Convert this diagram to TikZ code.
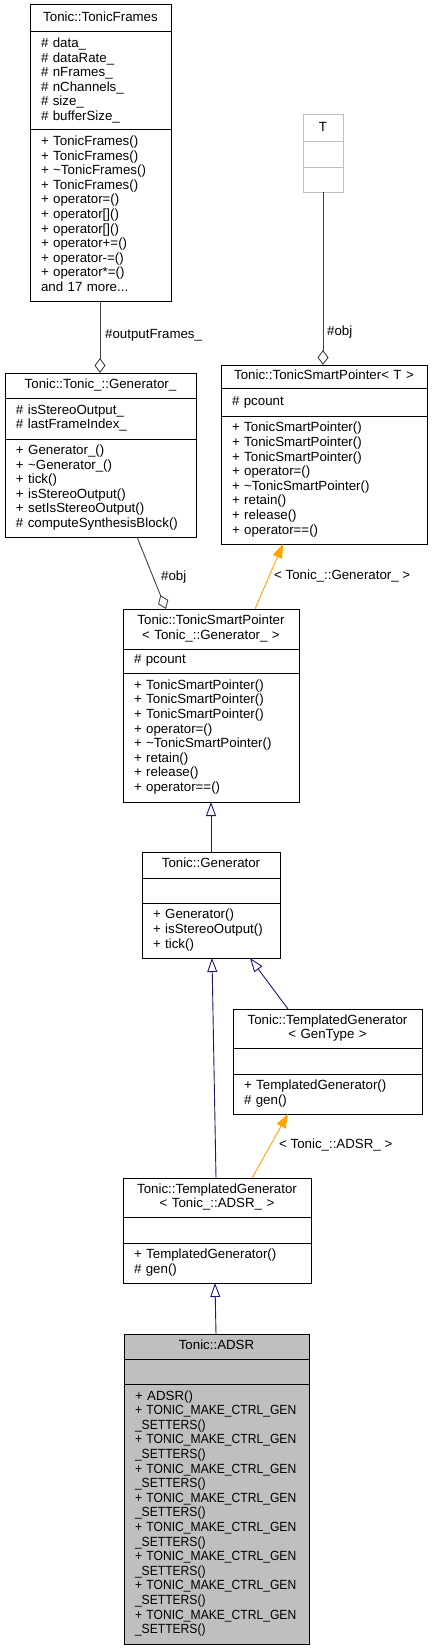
\documentclass[tikz,border=0pt]{standalone}
\usepackage{fontspec}
\setmainfont{Liberation Sans}
\newfontfamily\capsf[FakeStretch=0.91]{Liberation Sans}
\usetikzlibrary{arrows.meta}
\definecolor{edgegray}{HTML}{404040}
\definecolor{navyb}{HTML}{191970}
\definecolor{orng}{HTML}{FFA500}
\definecolor{lgray}{HTML}{BFBFBF}
\newcommand\Li[1]{\mbox{\strut#1}}
\newcommand\Lc[1]{\mbox{\strut\capsf#1}}
\begin{document}
\begin{tikzpicture}[x=1pt,y=-1pt,
 cell/.style={draw=black, line width=1pt, anchor=north west, inner xsep=11pt, inner ysep=0pt, outer sep=0pt, align=left, font=\fontsize{13.3}{14.6}\selectfont},
 ttl/.style={cell, align=center},
 lbl/.style={anchor=base west, inner sep=0pt, font=\fontsize{13.3}{14.6}\selectfont},
 agg/.style={draw=edgegray, line width=0.9pt, -{Diamond[open, length=15pt, width=11pt]}},
 inh/.style={draw=navyb, line width=0.9pt, -{Triangle[open, length=14pt, width=10pt]}},
 tpl/.style={draw=orng, line width=0.9pt, -{Triangle[length=14pt, width=10pt, fill=orng]}},
]
\useasboundingbox (0,0) rectangle (431,1651);

% Tonic::TonicFrames
\node[ttl, text width=119pt, minimum height=27pt] (tfT) at (30,5) {\Li{Tonic::TonicFrames}};
\node[cell, text width=119pt, minimum height=98pt] (tfA) at (30,32) {\Li{\# data\_}\\\Li{\# dataRate\_}\\\Li{\# nFrames\_}\\\Li{\# nChannels\_}\\\Li{\# size\_}\\\Li{\# bufferSize\_}};
\node[cell, text width=119pt, minimum height=171pt] (tfM) at (30,130) {\Li{+ TonicFrames()}\\\Li{+ TonicFrames()}\\\Li{+ \textasciitilde TonicFrames()}\\\Li{+ TonicFrames()}\\\Li{+ operator=()}\\\Li{+ operator[]()}\\\Li{+ operator[]()}\\\Li{+ operator+=()}\\\Li{+ operator-=()}\\\Li{+ operator*=()}\\\Li{and 17 more...}};

% T
\node[ttl, draw=lgray, text width=18pt, minimum height=27pt] (tT) at (303,115) {\Li{T}};
\node[cell, draw=lgray, text width=18pt, minimum height=25pt] (tA) at (303,142) {};
\node[cell, draw=lgray, text width=18pt, minimum height=25pt] (tM) at (303,167) {};

% Tonic::Tonic_::Generator_
\node[ttl, text width=169pt, minimum height=25pt] (gT) at (5,373) {\Li{Tonic::Tonic\_::Generator\_}};
\node[cell, text width=169pt, minimum height=41pt] (gA) at (5,398) {\Li{\# isStereoOutput\_}\\\Li{\# lastFrameIndex\_}};
\node[cell, text width=169pt, minimum height=98pt] (gM) at (5,439) {\Li{+ Generator\_()}\\\Li{+ \textasciitilde Generator\_()}\\\Li{+ tick()}\\\Li{+ isStereoOutput()}\\\Li{+ setIsStereoOutput()}\\\Li{\# computeSynthesisBlock()}};

% Tonic::TonicSmartPointer< T >
\node[ttl, text width=184pt, minimum height=23.5pt] (spT) at (221,365) {\Li{Tonic::TonicSmartPointer< T >}};
\node[cell, text width=184pt, minimum height=27.5pt] (spA) at (221,388.5) {\Li{\# pcount}};
\node[cell, text width=184pt, minimum height=128pt] (spM) at (221,416) {\Li{+ TonicSmartPointer()}\\\Li{+ TonicSmartPointer()}\\\Li{+ TonicSmartPointer()}\\\Li{+ operator=()}\\\Li{+ \textasciitilde TonicSmartPointer()}\\\Li{+ retain()}\\\Li{+ release()}\\\Li{+ operator==()}};

% Tonic::TonicSmartPointer< Tonic_::Generator_ >
\node[ttl, text width=154pt, minimum height=40pt] (sgT) at (123,609) {\Li{Tonic::TonicSmartPointer}\\\Li{< Tonic\_::Generator\_ >}};
\node[cell, text width=154pt, minimum height=24pt] (sgA) at (123,649) {\Li{\# pcount}};
\node[cell, text width=154pt, minimum height=129pt] (sgM) at (123,673) {\Li{+ TonicSmartPointer()}\\\Li{+ TonicSmartPointer()}\\\Li{+ TonicSmartPointer()}\\\Li{+ operator=()}\\\Li{+ \textasciitilde TonicSmartPointer()}\\\Li{+ retain()}\\\Li{+ release()}\\\Li{+ operator==()}};

% Tonic::Generator
\node[ttl, text width=116pt, minimum height=26pt] (genT) at (142,852) {\Li{Tonic::Generator}};
\node[cell, text width=116pt, minimum height=25pt] (genA) at (142,878) {};
\node[cell, text width=116pt, minimum height=55pt] (genM) at (142,903) {\Li{+ Generator()}\\\Li{+ isStereoOutput()}\\\Li{+ tick()}};

% Tonic::TemplatedGenerator< GenType >
\node[ttl, text width=167pt, minimum height=39pt] (tgT) at (233,1009) {\Li{Tonic::TemplatedGenerator}\\\Li{< GenType >}};
\node[cell, text width=167pt, minimum height=26pt] (tgA) at (233,1048) {};
\node[cell, text width=167pt, minimum height=40pt] (tgM) at (233,1074) {\Li{+ TemplatedGenerator()}\\\Li{\# gen()}};

% Tonic::TemplatedGenerator< Tonic_::ADSR_ >
\node[ttl, text width=166pt, minimum height=39pt] (taT) at (123,1178) {\Li{Tonic::TemplatedGenerator}\\\Li{< Tonic\_::ADSR\_ >}};
\node[cell, text width=166pt, minimum height=26pt] (taA) at (123,1217) {};
\node[cell, text width=166pt, minimum height=40pt] (taM) at (123,1243) {\Li{+ TemplatedGenerator()}\\\Li{\# gen()}};

% Tonic::ADSR
\node[ttl, fill=lgray, text width=163pt, minimum height=25pt] (adT) at (124,1334) {\Li{Tonic::ADSR}};
\node[cell, fill=lgray, text width=163pt, minimum height=25pt] (adA) at (124,1359) {};
\node[cell, fill=lgray, text width=163pt, minimum height=260pt] (adM) at (124,1384) {\Li{+ ADSR()}\\
\Lc{+ TONIC\_MAKE\_CTRL\_GEN}\\\Lc{\_SETTERS()}\\
\Lc{+ TONIC\_MAKE\_CTRL\_GEN}\\\Lc{\_SETTERS()}\\
\Lc{+ TONIC\_MAKE\_CTRL\_GEN}\\\Lc{\_SETTERS()}\\
\Lc{+ TONIC\_MAKE\_CTRL\_GEN}\\\Lc{\_SETTERS()}\\
\Lc{+ TONIC\_MAKE\_CTRL\_GEN}\\\Lc{\_SETTERS()}\\
\Lc{+ TONIC\_MAKE\_CTRL\_GEN}\\\Lc{\_SETTERS()}\\
\Lc{+ TONIC\_MAKE\_CTRL\_GEN}\\\Lc{\_SETTERS()}\\
\Lc{+ TONIC\_MAKE\_CTRL\_GEN}\\\Lc{\_SETTERS()}};

% connectors
\draw[agg] ([xshift=70pt]tfM.south west) -- ([xshift=95pt]gT.north west);
\node[lbl] (l1) at (105,338) {\#outputFrames\_};
\draw[agg] ([xshift=20pt]tM.south west) -- ([xshift=102pt]spT.north west);
\node[lbl] (l2) at (327,335) {\#obj};
\draw[agg] ([xshift=132pt]gM.south west) -- ([xshift=43pt]sgT.north west);
\node[lbl] (l3) at (161,580) {\#obj};
\draw[tpl] ([xshift=132pt]sgT.north west) -- ([xshift=62pt]spM.south west);
\node[lbl] (l4) at (274,579.5) {< Tonic\_::Generator\_ >};
\draw[inh] ([xshift=69pt]genT.north west) -- ([xshift=88pt]sgM.south west);
\draw[inh] ([xshift=55pt]tgT.north west) -- ([xshift=108pt]genM.south west);
\draw[inh] ([xshift=93pt]taT.north west) -- ([xshift=70pt]genM.south west);
\draw[tpl] ([xshift=129pt]taT.north west) -- ([xshift=55pt]tgM.south west);
\node[lbl] (l5) at (279,1148.5) {< Tonic\_::ADSR\_ >};
\draw[inh] ([xshift=92pt]adT.north west) -- ([xshift=92pt]taM.south west);
\end{tikzpicture}
\end{document}
